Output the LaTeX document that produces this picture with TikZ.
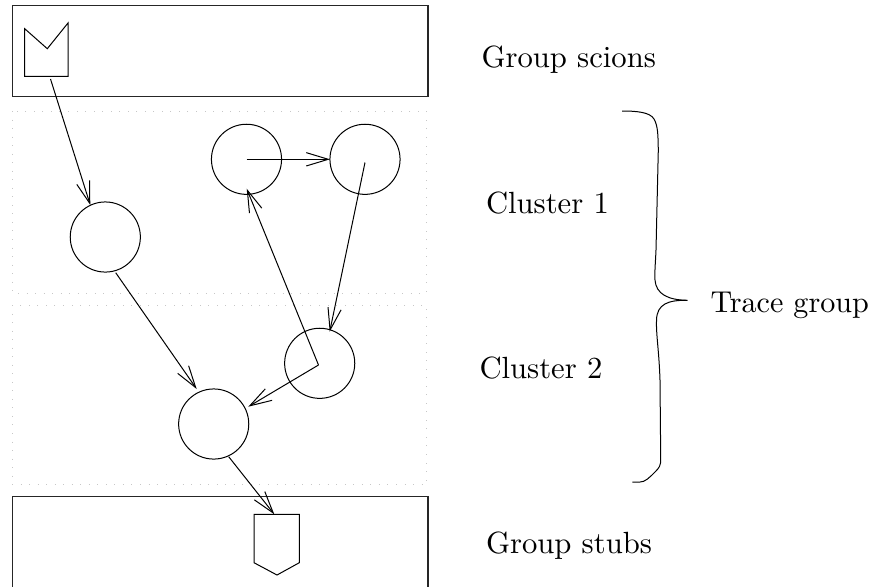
\documentclass[tikz,border=0pt]{standalone}
\usetikzlibrary{arrows.meta}
\tikzset{
  px/.style={x=0.75pt,y=-0.75pt},
  ln/.style={line width=0.75pt,black},
  solidbox/.style={line width=0.85pt,black!85},
  dotbox/.style={line width=0.6pt,black!22,dash pattern=on 0.6pt off 5.8pt},
  obj/.style={circle,draw,ln,minimum size=52.6pt,inner sep=0pt,outer sep=0pt},
  ref/.style={ln,-{Straight Barb[length=16.5pt,width=10pt,line width=0.75pt]},shorten >=0pt},
  lab/.style={anchor=base west,inner sep=0pt,outer sep=0pt,scale=2.3,font=\fontsize{10}{12}\selectfont}
}
\begin{document}
\begin{tikzpicture}[px]
\useasboundingbox (0,0) rectangle (874,587);
% boxes
\draw[solidbox] (12.3,5.7) rectangle (428,96.3);
\draw[solidbox] (12.3,586.5) -- (12.3,496.7) -- (428,496.7) -- (428,586.5);
\draw[dotbox] (12.3,111) rectangle (426,293);
\draw[dotbox] (12.3,305) rectangle (426,484.5);
% scion and stub
\draw[ln,line join=miter] (24.7,28.7) -- (47.3,48.7) -- (68,23) -- (68,76.3) -- (24.7,76.3) -- cycle;
\draw[ln,line join=miter] (254,514.3) -- (299.3,514.3) -- (299.3,562.7) -- (277,575) -- (254,562.7) -- cycle;
% objects
\node[obj] (a) at (105.3,237) {};
\node[obj] (b) at (246.5,159.3) {};
\node[obj] (c) at (365,159.3) {};
\node[obj] (d) at (319.7,363.3) {};
\node[obj] (e) at (213.7,424) {};
% connector ends
\coordinate (s1) at (50.5,79);
\coordinate (a1) at (90.3,205);
\coordinate (a0) at (115.7,272.7);
\coordinate (e1) at (196.7,389);
\coordinate (b0) at (246.7,159.3);
\coordinate (c1) at (330,159.3);
\coordinate (c0) at (365,162.5);
\coordinate (d1) at (329.7,331.7);
\coordinate (d0) at (318.5,365);
\coordinate (b1) at (246.7,188.7);
\coordinate (e2) at (248.3,406.7);
\coordinate (e0) at (228.7,456.7);
\coordinate (t1) at (274.3,514.3);
\draw[ref] (s1) -- (a1);
\draw[ref] (a0) -- (e1);
\draw[ref] (b0) -- (c1);
\draw[ref] (c0) -- (d1);
\draw[ref] (d0) -- (b1);
\draw[ref] (d0) -- (e2);
\draw[ref] (e0) -- (t1);
% brace
\draw[ln] (622,111) .. controls (636,111) and (650,112) .. (654,119)
  .. controls (658,126) and (658,135) .. (658.3,150)
  -- (656,250)
  .. controls (655.5,262) and (654.5,272) .. (655,280)
  .. controls (656,294) and (668,300) .. (687.3,300.3);
\draw[ln] (687.3,300.3) .. controls (668,300) and (657,304) .. (656.5,320)
  .. controls (656,335) and (659,350) .. (660,380)
  -- (660.7,458)
  .. controls (661,466) and (659,468) .. (655,472)
  .. controls (649,478) and (645,482) .. (640,482)
  -- (632.3,482);
% labels
\node[lab] (l1) at (481.5,67) {Group scions};
\node[lab] (l2) at (486,213) {Cluster 1};
\node[lab] (l3) at (479.5,378) {Cluster 2};
\node[lab] (l4) at (486,553) {Group stubs};
\node[lab,scale=0.983] (l5) at (710.5,312.7) {Trace group};
\end{tikzpicture}
\end{document}
